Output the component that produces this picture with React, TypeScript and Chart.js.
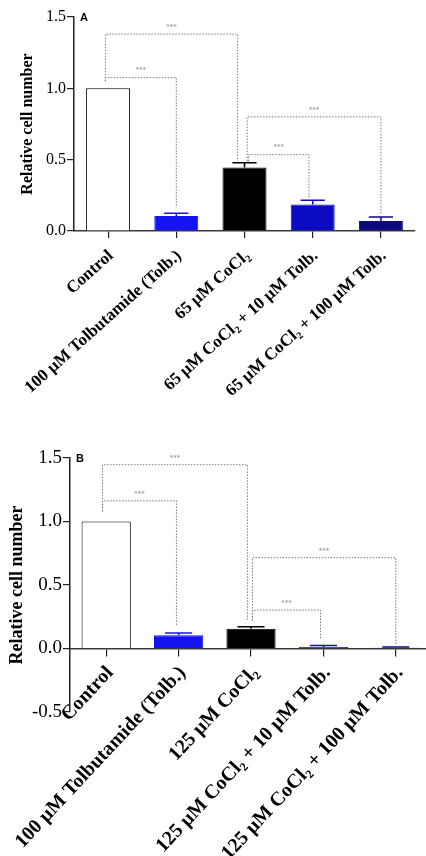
import React, { useEffect, useRef } from "react";
import { Chart, registerables } from "chart.js";

Chart.register(...registerables);

// ---------- data ----------
const topCategories = [
  "Control",
  "100 µM Tolbutamide (Tolb.)",
  "65 µM CoCl₂",
  "65 µM CoCl₂ + 10 µM Tolb.",
  "65 µM CoCl₂ + 100 µM Tolb.",
];
const topValues = [1.0, 0.105, 0.445, 0.185, 0.07];
const topSem = [0, 0.019, 0.033, 0.03, 0.028];

const bottomCategories = [
  "Control",
  "100 µM Tolbutamide (Tolb.)",
  "125 µM CoCl₂",
  "125 µM CoCl₂ + 10 µM Tolb.",
  "125 µM CoCl₂ + 100 µM Tolb.",
];
const bottomValues = [1.0, 0.105, 0.155, 0.012, 0.006];
const bottomSem = [0, 0.018, 0.017, 0.012, 0.005];

const barFill = ["#ffffff", "#1414f2", "#000000", "#0b0bc2", "#0a0a7c"];
const barEdge = ["#000000", "#1414f2", "#000000", "#0b0bc2", "#0a0a7c"];

const yTicksTop = [0, 0.5, 1.0, 1.5];
const yTicksBottom = [-0.5, 0, 0.5, 1.0, 1.5];

// significance brackets: from/to category index, leg offsets (category units), heights (data units)
const topBrackets = [
  { from: 0, fromOff: -0.04, to: 2, toOff: -0.1, yFrom: 1.05, yTop: 1.38, yTo: 0.49, label: "***" },
  { from: 0, fromOff: -0.04, to: 1, toOff: 0, yFrom: 1.05, yTop: 1.075, yTo: 0.165, label: "***" },
  { from: 2, fromOff: 0.04, to: 4, toOff: 0, yFrom: 0.49, yTop: 0.8, yTo: 0.112, label: "***" },
  { from: 2, fromOff: 0.06, to: 3, toOff: -0.055, yFrom: 0.49, yTop: 0.535, yTo: 0.222, label: "***" },
];
const bottomBrackets = [
  { from: 0, fromOff: -0.05, to: 2, toOff: -0.05, yFrom: 1.08, yTop: 1.447, yTo: 0.223, label: "***" },
  { from: 0, fromOff: -0.05, to: 1, toOff: -0.03, yFrom: 1.08, yTop: 1.163, yTo: 0.184, label: "***" },
  { from: 2, fromOff: 0.02, to: 4, toOff: 0, yFrom: 0.22, yTop: 0.715, yTo: 0.026, label: "***" },
  { from: 2, fromOff: 0.02, to: 3, toOff: -0.04, yFrom: 0.22, yTop: 0.302, yTo: 0.08, label: "***" },
];

type Bracket = (typeof topBrackets)[number];

function makePlugin(sem: number[], brackets: Bracket[], letter: string, labelSize: number) {
  return {
    id: "extras" + letter,
    afterDatasetsDraw(chart: any) {
      const ctx = chart.ctx;
      const xs = chart.scales.x;
      const ys = chart.scales.y;
      const meta = chart.getDatasetMeta(0);
      const vals = chart.data.datasets[0].data as number[];
      ctx.save();
      // error bars (upper whisker + cap)
      vals.forEach((v: number, i: number) => {
        if (!sem[i]) return;
        const x = xs.getPixelForValue(i);
        const y0 = ys.getPixelForValue(v);
        const y1 = ys.getPixelForValue(v + sem[i]);
        const w = meta.data[i].width * 0.55;
        ctx.strokeStyle = barEdge[i];
        ctx.lineWidth = 1.5;
        ctx.beginPath();
        ctx.moveTo(x, y0);
        ctx.lineTo(x, y1);
        ctx.moveTo(x - w / 2, y1);
        ctx.lineTo(x + w / 2, y1);
        ctx.stroke();
      });
      // brackets
      const step = xs.getPixelForValue(1) - xs.getPixelForValue(0);
      brackets.forEach((b) => {
        const xa = xs.getPixelForValue(b.from) + b.fromOff * step;
        const xb = xs.getPixelForValue(b.to) + b.toOff * step;
        const ya = ys.getPixelForValue(b.yFrom);
        const yt = ys.getPixelForValue(b.yTop);
        const yb = ys.getPixelForValue(b.yTo);
        ctx.strokeStyle = "#7a7a7a";
        ctx.lineWidth = 1;
        ctx.setLineDash([1.5, 1.5]);
        ctx.beginPath();
        ctx.moveTo(xa, ya);
        ctx.lineTo(xa, yt);
        ctx.lineTo(xb, yt);
        ctx.lineTo(xb, yb);
        ctx.stroke();
        ctx.setLineDash([]);
        ctx.fillStyle = "#8a8a8a";
        ctx.font = "7px 'DejaVu Sans'";
        ctx.textAlign = "center";
        ctx.textBaseline = "middle";
        ctx.fillText(b.label, (xa + xb) / 2, yt - 7);
      });
      // panel letter
      ctx.fillStyle = "#000";
      ctx.font = `bold ${labelSize}px 'Liberation Sans'`;
      ctx.textAlign = "left";
      ctx.textBaseline = "middle";
      ctx.fillText(letter, chart.chartArea.left + 6, chart.chartArea.top + 1);
      ctx.restore();
    },
  };
}

interface PanelProps {
  categories: string[];
  values: number[];
  sem: number[];
  brackets: Bracket[];
  letter: string;
  yTicks: number[];
  width: number;
  height: number;
  top: number;
  yMin: number;
  axisWidth: number;
  xAxisHeight: number;
  padding: { top: number; right: number; bottom: number; left: number };
  tickFont: number;
  labelFont: number;
  titleFont: number;
  titlePad: number;
  rotation: number;
  barPct: number;
  xAtZero: boolean;
  labelPad: number;
  labelShift: number;
}

function Panel(p: PanelProps) {
  const ref = useRef<HTMLCanvasElement | null>(null);
  useEffect(() => {
    if (!ref.current) return;
    const chart = new Chart(ref.current, {
      type: "bar",
      data: {
        labels: p.categories,
        datasets: [
          {
            data: p.values,
            backgroundColor: barFill,
            borderColor: barEdge,
            borderWidth: 1,
            barPercentage: p.barPct,
            categoryPercentage: 1,
          },
        ],
      },
      options: {
        animation: false,
        responsive: false,
        devicePixelRatio: 1,
        layout: { padding: p.padding },
        plugins: { legend: { display: false }, tooltip: { enabled: false } },
        scales: {
          x: {
            type: "category",
            offset: true,
            position: p.xAtZero ? ({ y: 0 } as any) : "bottom",
            afterFit: (s: any) => {
              s.height = p.xAxisHeight;
            },
            grid: {
              offset: false,
              drawOnChartArea: false,
              drawTicks: true,
              tickLength: 7,
              color: "#222",
              lineWidth: 1.2,
            },
            border: { display: true, color: "#3a3a3a", width: 1.5, dash: [2, 1] },
            ticks: {
              autoSkip: false,
              minRotation: p.rotation,
              maxRotation: p.rotation,
              color: "#000",
              padding: p.labelPad,
              labelOffset: p.labelShift,
              font: { family: "'Liberation Serif'", size: p.labelFont, weight: "bold" },
            },
          },
          y: {
            min: p.yMin,
            max: 1.5,
            afterFit: (s: any) => {
              s.width = p.axisWidth;
            },
            afterBuildTicks: (s: any) => {
              s.ticks = p.yTicks.map((v) => ({ value: v }));
            },
            grid: {
              drawOnChartArea: false,
              drawTicks: true,
              tickLength: 7,
              color: "#222",
              lineWidth: 1.2,
            },
            border: { display: true, color: "#222", width: 1.5 },
            ticks: {
              color: "#000",
              padding: 1,
              font: { family: "'Liberation Serif'", size: p.tickFont },
              callback: (v: any) => Number(v).toFixed(1),
            },
            title: {
              display: true,
              text: "Relative cell number",
              color: "#000",
              padding: { top: p.titlePad, bottom: 0 },
              font: { family: "'Liberation Serif'", size: p.titleFont, weight: "bold" },
            },
          },
        },
      },
      plugins: [makePlugin(p.sem, p.brackets, p.letter, 11)],
    });
    return () => chart.destroy();
  }, []);
  return (
    <div
      style={{
        position: "absolute",
        left: 0,
        top: p.top,
        width: 426,
        height: p.height,
        overflow: "hidden",
      }}
    >
      <canvas ref={ref} width={p.width} height={p.height} style={{ display: "block" }} />
    </div>
  );
}

export default function App() {
  useEffect(() => {
    document.body.style.margin = "0";
    document.body.style.background = "#fff";
  }, []);
  return (
    <div style={{ position: "relative", width: 426, height: 856, background: "#fff", overflow: "hidden" }}>
      <Panel
        categories={topCategories}
        values={topValues}
        sem={topSem}
        brackets={topBrackets}
        letter="A"
        yTicks={yTicksTop}
        width={426}
        height={440}
        top={0}
        yMin={0}
        axisWidth={74}
        xAxisHeight={209}
        padding={{ top: 17, right: 11, bottom: 0, left: 0 }}
        tickFont={16}
        labelFont={17}
        titleFont={16}
        titlePad={18}
        rotation={42}
        barPct={0.645}
        xAtZero={false}
        labelPad={8}
        labelShift={3}
      />
      <Panel
        categories={bottomCategories}
        values={bottomValues}
        sem={bottomSem}
        brackets={bottomBrackets}
        letter="B"
        yTicks={yTicksBottom}
        width={432}
        height={416}
        top={440}
        yMin={-0.5}
        axisWidth={70}
        xAxisHeight={0}
        padding={{ top: 18, right: 0, bottom: 144, left: 0 }}
        tickFont={19}
        labelFont={20}
        titleFont={18}
        titlePad={7}
        rotation={47}
        barPct={0.68}
        xAtZero={true}
        labelPad={6}
        labelShift={4}
      />
    </div>
  );
}
